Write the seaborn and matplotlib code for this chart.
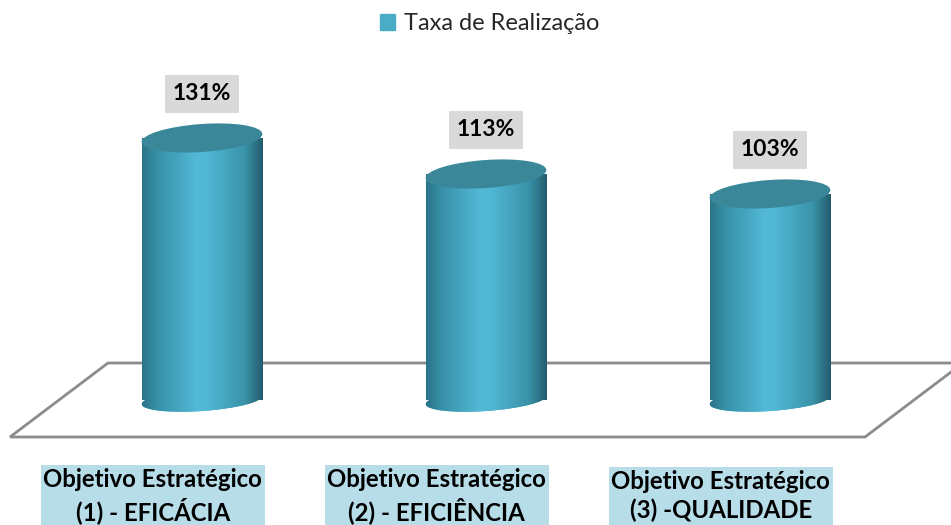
#coding=utf-8
import numpy as np
import matplotlib
matplotlib.use('Agg')
import matplotlib.pyplot as plt
import matplotlib.transforms as mtransforms
from matplotlib.patches import Ellipse, Polygon, Patch
from matplotlib.colors import LinearSegmentedColormap
import seaborn as sns

sns.set_style("white")
plt.rcParams['font.family'] = ['Lato', 'DejaVu Sans']

# dados do grafico
categorias = ['Objetivo Estratégico\n(1) - EFICÁCIA',
              'Objetivo Estratégico\n(2) - EFICIÊNCIA',
              'Objetivo Estratégico\n(3) -QUALIDADE']
valores = [131, 113, 103]
rotulos = ['131%', '113%', '103%']
serie = 'Taxa de Realização'

cor_barra = '#4bacc6'
cor_topo = '#3a8799'
cyl_cmap = LinearSegmentedColormap.from_list('cyl', [
    (0.0, '#2a7386'), (0.12, '#3790a7'), (0.45, '#52b9d6'),
    (0.55, '#50b6d3'), (0.85, '#3a93a9'), (1.0, '#235d6d')])

fig = plt.figure(figsize=(9.51, 5.25), dpi=100)
ax = fig.add_axes([0, 0, 1, 1])

largura = 0.426
sns.barplot(x=list(range(len(valores))), y=valores, color=cor_barra, saturation=1,
            width=largura, linewidth=0, ax=ax, zorder=2)
barras = list(ax.patches)

ax.set_xlim(-202 / 284, (951 - 202) / 284)
ax.set_ylim(-62.5, 200)
ax.set_autoscale_on(False)
ax.axis('off')

# piso 3D (em pixels da figura)
W, H = 951.0, 525.0
piso = [(108, 363), (963, 363), (865, 437), (10, 437)]
piso = [(px / W, 1 - py / H) for px, py in piso]
ax.add_patch(Polygon(piso, closed=True, transform=fig.transFigure, facecolor='white',
                     edgecolor='#8c8c8c', linewidth=2, zorder=0.5))

grad = np.linspace(0, 1, 256).reshape(1, -1)
p0 = ax.transData.transform((0, 0))
for i, b in enumerate(barras):
    x0, w, h = b.get_x(), b.get_width(), b.get_height()
    wpx = ax.transData.transform((w, 0))[0] - p0[0]
    # corpo do cilindro com degrade
    im = ax.imshow(grad, extent=[x0, x0 + w, 0, h], cmap=cyl_cmap, aspect='auto',
                   interpolation='bilinear', zorder=2.1)
    im.set_clip_path(b)
    # base (meia elipse)
    base = Ellipse((0, 0), wpx, 22, angle=4, facecolor=cor_barra, edgecolor='none',
                   transform=mtransforms.ScaledTranslation(i, 0, ax.transData), zorder=1.9)
    ax.add_patch(base)
    im2 = ax.imshow(grad, extent=[x0, x0 + w, -10, 5], cmap=cyl_cmap, aspect='auto',
                    interpolation='bilinear', zorder=2.0)
    im2.set_clip_path(base)
    # topo
    ax.add_patch(Ellipse((0, 0), wpx, 28, angle=4, facecolor=cor_topo, edgecolor='none',
                         transform=mtransforms.ScaledTranslation(i, h, ax.transData),
                         zorder=3))
    # rotulo de valor
    ax.text(i, h + 22, rotulos[i], ha='center', va='center', fontsize=16.5,
            fontweight='bold', color='black', zorder=4,
            bbox=dict(boxstyle='square,pad=0.35', facecolor='#d9d9d9', edgecolor='none'))

# rotulos das categorias
for i, cat in enumerate(categorias):
    ax.text(i - 0.173, -48, cat, ha='center', va='center', fontsize=17.3,
            fontweight='bold', color='black', linespacing=1.25, zorder=4,
            bbox=dict(boxstyle='square,pad=0.12', facecolor='#b7dde8', edgecolor='none'))

fig.legend(handles=[Patch(color=cor_barra, label=serie)], loc='center',
           bbox_to_anchor=(0.515, 1 - 24 / 525), frameon=False, fontsize=17,
           handlelength=0.64, handleheight=0.64, handletextpad=0.4)

fig.savefig('out.png', dpi=100)
